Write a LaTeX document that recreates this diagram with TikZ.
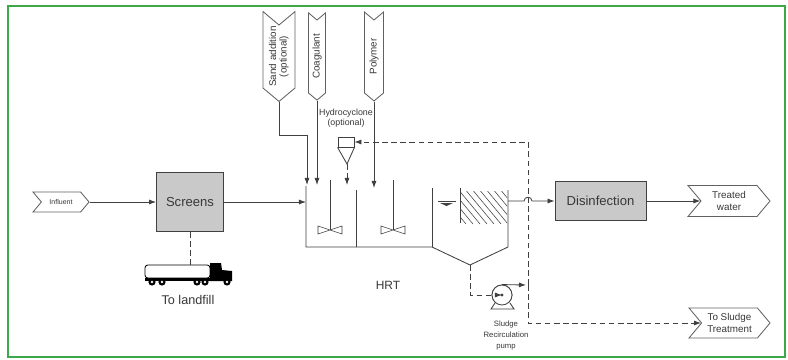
\documentclass[tikz,border=0pt]{standalone}
\usepackage{fontspec}
\setmainfont{Liberation Sans}
\usepackage{graphicx}
\usetikzlibrary{positioning, calc, shapes.symbols, arrows.meta}

\begin{document}
\begin{tikzpicture}[x=0.025cm, y=-0.025cm, align=center, >={Latex[length=5pt, width=3.6pt]}, line width=0.6pt,
        tagshape/.style={draw=taggray, fill=white, text=textgray, signal, signal pointer angle=100, inner sep=1pt, font=\fontsize{7}{8.5}\selectfont},
        unitbox/.style={draw=linegray, fill=boxgray, text=textgray, font=\fontsize{9.3}{11}\selectfont},
        flow/.style={draw=linegray, ->},
        sludge/.style={draw=linegray, dashed, dash pattern=on 4pt off 2.5pt}]
        % Define colors
        \definecolor{framegreen}{rgb}{0.24, 0.66, 0.29}
        \definecolor{boxgray}{rgb}{0.79, 0.79, 0.79}
        \definecolor{linegray}{rgb}{0.25, 0.25, 0.25}
        \definecolor{taggray}{rgb}{0.38, 0.38, 0.38}
        \definecolor{textgray}{rgb}{0.22, 0.22, 0.22}

        % Frame
        \useasboundingbox (0,0) rectangle (788,360);
        \fill[white] (0,0) rectangle (788,360);
        \draw[framegreen, line width=1.6pt] (8,6) rectangle (785,357);

        % Nodes
        \node[tagshape, signal from=west, signal to=east, minimum width=1.4cm, minimum height=0.5cm, font=\fontsize{5}{6}\selectfont] (influent) at (61,202) {Influent};
        \node[unitbox, minimum width=1.675cm, minimum height=1.475cm] (screens) at (190,202) {Screens};
        \node[unitbox, minimum width=2.275cm, minimum height=0.975cm] (disinf) at (600.5,201) {Disinfection};
        \node[tagshape, signal from=west, signal to=east, minimum width=2.05cm, minimum height=0.775cm] (treated) at (729,201) {Treated\\water};
        \node[tagshape, signal from=west, signal to=east, minimum width=2.025cm, minimum height=0.75cm] (tosludge) at (729.5,323) {To Sludge\\Treatment};

        \node[tagshape, signal from=north, signal to=south, minimum width=0.8cm, minimum height=2.075cm] (sand) at (279,56.5) {\rotatebox{90}{\begin{tabular}{@{}c@{}}Sand addition\\[-1pt](optional)\end{tabular}}};
        \node[tagshape, signal from=north, signal to=south, minimum width=0.425cm, minimum height=2.075cm] (coag) at (317,56.5) {\rotatebox{90}{Coagulant}};
        \node[tagshape, signal from=north, signal to=south, minimum width=0.475cm, minimum height=2.075cm] (poly) at (374,56.5) {\rotatebox{90}{Polymer}};

        \node[draw=linegray, fill=white, minimum width=0.4cm, minimum height=0.25cm, inner sep=0pt] (cyclone) at (346,142) {};
        \node[text=textgray, font=\fontsize{6.3}{7.5}\selectfont, above=0.1cm of cyclone] (cyclonelabel) {Hydrocyclone\\(optional)};

        \node[draw=linegray, fill=white, circle, minimum size=0.5cm, inner sep=0pt] (pump) at (502,295) {};
        \node[text=textgray, font=\fontsize{5.5}{7.8}\selectfont, below=0.25cm of pump, xshift=0.1cm] (pumplabel) {Sludge\\Recirculation\\pump};

        \node[text=textgray, font=\fontsize{8.5}{10}\selectfont] (hrt) at (388,285) {HRT};
        \node[text=textgray, font=\fontsize{9}{11}\selectfont] (landfill) at (188,300) {To landfill};

        % Tank
        \coordinate (inlet) at (306,202);
        \coordinate (outlet) at (508,201);
        \draw[linegray] (306,186) -- (306,247) -- (432,247) -- (470,265) coordinate (hopper) -- (508,247) -- (508,190);
        \draw[linegray] (356,190) -- (356,247);
        \draw[linegray] (432,188) -- (432,247);
        \draw[linegray] (460,188) -- (460,223);
        \foreach \mx in {330,393} {
            \draw[linegray] (\mx,180) -- (\mx,230);
            \draw[linegray, line width=0.4pt] (\mx-12,226) -- (\mx+12,234) -- (\mx+12,226) -- (\mx-12,234) -- cycle;
        }
        \begin{scope}
            \clip (460,191) rectangle (507,224);
            \foreach \k in {0,...,11} {
                \draw[linegray, line width=0.4pt] (436+\k*7,188) -- ++(30,36);
            }
        \end{scope}
        \draw[linegray] (438,201) -- (456,201);
        \fill[linegray] (440,203) -- (453,203) -- (446.5,206) -- cycle;

        % Hydrocyclone cone
        \draw[linegray] (cyclone.south west) -- (347,164) coordinate (cyclonetip) -- (cyclone.south east);

        % Pump base
        \draw[linegray, fill=white] (495,303) -- (491,309) -- (514,309) -- (510,303);
        \node[draw=linegray, fill=white, circle, minimum size=0.5cm, inner sep=0pt] at (pump) {};
        \fill[linegray] (pump.center) circle (1.6);

        % Truck
        \coordinate (truck) at (190,265);
        \begin{scope}[shift={(truck)}]
            \draw[black, fill=white, rounded corners=2pt] (-45,0) rectangle (20,13);
            \fill[black] (-45,13) rectangle (42,16);
            \fill[black] (20,-2) -- (31,-2) -- (32,5) -- (42,6) -- (42,16) -- (20,16) -- cycle;
            \foreach \wx in {-38,-28,7,15,37} {
                \fill[black] (\wx,17) circle (3.6);
                \fill[white] (\wx,17) circle (1.3);
            }
        \end{scope}

        % Drop points
        \coordinate (drop1) at (307,185);
        \coordinate (drop2) at (317,185);
        \coordinate (drop3) at (347,185);
        \coordinate (drop4) at (374,188);
        \coordinate (junction) at (528,285);

        % Edges
        \draw[flow] (sand.south) |- (307,135) -- (drop1);
        \draw[flow] (coag.south) -- (drop2);
        \draw[flow, sludge] (cyclonetip) -- (drop3);
        \draw[flow] (poly.south) -- (drop4);

        \draw[flow] (influent.east) -- (screens.west);
        \draw[flow] (screens.east) -- (inlet);
        \draw[flow] (outlet) -- (524,201) .. controls (524,196) and (532,196) .. (532,201) -- (disinf.west);
        \draw[flow] (disinf.east) -- (treated.west);

        \draw[sludge] (screens.south) -- (truck);
        \draw[sludge, ->] (hopper) |- (pump.center);
        \draw[flow] (pump.north) -- (526,285);
        \draw[sludge, ->] (junction) |- (cyclone.east);
        \draw[sludge, ->] (junction) |- (tosludge.west);
    \end{tikzpicture}
\end{document}
